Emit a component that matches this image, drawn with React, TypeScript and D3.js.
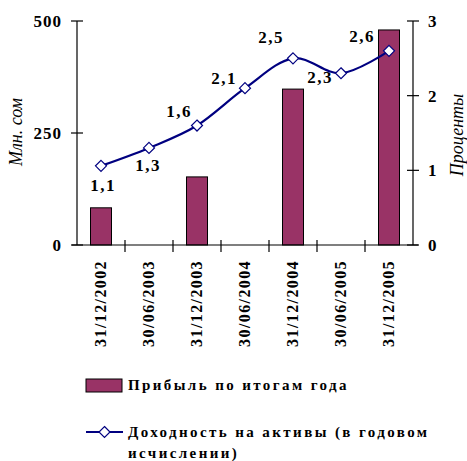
import React from "react";
import * as d3 from "d3";

const categories = ["31/12/2002", "30/06/2003", "31/12/2003", "30/06/2004", "31/12/2004", "30/06/2005", "31/12/2005"];
const profit: (number | null)[] = [83, null, 152, null, 348, null, 480];
const returnOnAssets = [1.06, 1.3, 1.6, 2.1, 2.5, 2.3, 2.6];
const leftTicks = [0, 250, 500];
const rightTicks = [0, 1, 2, 3];
const labelOffsets: [number, number][] = [[2, 25], [-1, 23], [-18, -9], [-21, -4], [-22, -15], [-21, 10], [-27, -9]];

const W = 467, H = 461;
const X0 = 77, X1 = 413, Y0 = 245, Y1 = 21;
const FONT = "'Liberation Serif', 'Times New Roman', serif";
const BAR = "#993366";
const NAVY = "#000080";

export default function App() {
  const x = d3.scaleBand<string>().domain(categories).range([X0, X1]).paddingInner(0.5625).paddingOuter(0.28125);
  const step = x.step();
  const yL = d3.scaleLinear().domain([0, 500]).range([Y0, Y1]);
  const yR = d3.scaleLinear().domain([0, 3]).range([Y0, Y1]);
  const cx = (c: string) => (x(c) as number) + x.bandwidth() / 2;
  const line = d3.line<number>().x((_, i) => cx(categories[i])).y((d) => yR(d)).curve(d3.curveCatmullRom.alpha(0));
  const fmt = (v: number) => v.toFixed(1).replace(".", ",");
  const diamond = (px: number, py: number, r = 5.5) => `M${px},${py - r}L${px + r},${py}L${px},${py + r}L${px - r},${py}Z`;

  return (
    <svg width={W} height={H} style={{ position: "absolute", left: 0, top: 0, background: "#fff" }} fontFamily={FONT}>
      {profit.map((v, i) =>
        v == null ? null : (
          <rect key={i} x={x(categories[i])} y={yL(v)} width={x.bandwidth()} height={Y0 - yL(v)} fill={BAR} stroke="#000" strokeWidth={1} />
        )
      )}
      <line x1={X0} x2={X0} y1={Y1} y2={Y0} stroke="#000" strokeWidth={1.2} />
      <line x1={X1} x2={X1} y1={Y1} y2={Y0} stroke="#000" strokeWidth={1.2} />
      <line x1={X0 - 5} x2={X1 + 5} y1={Y0} y2={Y0} stroke="#000" strokeWidth={1.2} />
      {leftTicks.map((t) => (
        <g key={"l" + t}>
          <line x1={X0 - 6} x2={X0 + 6} y1={yL(t)} y2={yL(t)} stroke="#000" strokeWidth={1.2} />
          <text x={62} y={yL(t)} dy="0.35em" textAnchor="end" fontWeight="bold" fontSize={17} letterSpacing={1}>{t}</text>
        </g>
      ))}
      {rightTicks.map((t) => (
        <g key={"r" + t}>
          <line x1={X1 - 6} x2={X1 + 6} y1={yR(t)} y2={yR(t)} stroke="#000" strokeWidth={1.2} />
          <text x={428} y={yR(t)} dy="0.35em" textAnchor="start" fontWeight="bold" fontSize={17}>{t}</text>
        </g>
      ))}
      {d3.range(1, categories.length).map((i) => (
        <line key={"xt" + i} x1={X0 + step * i} x2={X0 + step * i} y1={Y0 - 5} y2={Y0 + 7} stroke="#000" strokeWidth={1.2} />
      ))}
      {categories.map((c) => (
        <text key={c} transform={`translate(${cx(c) + 5},${260}) rotate(-90)`} textAnchor="end" fontWeight="bold" fontSize={16} letterSpacing={1.4}>{c}</text>
      ))}
      <text transform={`translate(22,132) rotate(-90)`} textAnchor="middle" fontStyle="italic" fontSize={18}>Млн. сом</text>
      <text transform={`translate(463,135) rotate(-90)`} textAnchor="middle" fontStyle="italic" fontSize={18}>Проценты</text>
      <path d={line(returnOnAssets) ?? ""} fill="none" stroke={NAVY} strokeWidth={2.2} />
      {returnOnAssets.map((v, i) => (
        <path key={"m" + i} d={diamond(cx(categories[i]), yR(v))} fill="#fff" stroke={NAVY} strokeWidth={1.2} />
      ))}
      {returnOnAssets.map((v, i) => (
        <text key={"t" + i} x={cx(categories[i]) + labelOffsets[i][0]} y={yR(v) + labelOffsets[i][1]} textAnchor="middle" fontWeight="bold" fontSize={17} letterSpacing={1.5}>{fmt(v)}</text>
      ))}
      <rect x={86} y={379} width={36} height={13} fill={BAR} stroke="#000" strokeWidth={1} />
      <text x={128} y={390} fontWeight="bold" fontSize={15} letterSpacing={2.4}>Прибыль по итогам года</text>
      <line x1={86} x2={123} y1={432} y2={432} stroke={NAVY} strokeWidth={2} />
      <path d={diamond(104.5, 432)} fill="#fff" stroke={NAVY} strokeWidth={1.2} />
      <text x={128} y={437} fontWeight="bold" fontSize={15} letterSpacing={2.4}>Доходность на активы (в годовом</text>
      <text x={128} y={458} fontWeight="bold" fontSize={15} letterSpacing={2.4}>исчислении)</text>
    </svg>
  );
}
